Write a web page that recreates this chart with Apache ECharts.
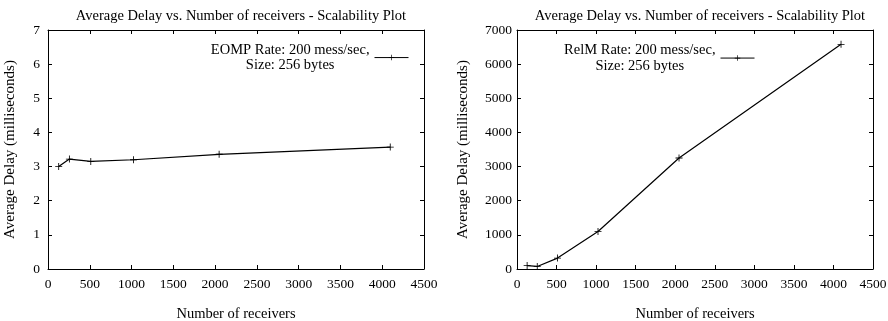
<!DOCTYPE html>
<html>
<head>
  <title>Average Delay vs. Number of receivers</title>
  <script src="https://cdn.jsdelivr.net/npm/echarts@6/dist/echarts.min.js"></script>
  <style>
    body { margin: 0; background: #fff; }
  </style>
</head>
<body>
  <div id="chartContainer" style="width: 888px; height: 321px;"></div>

  <script>
    // Number of receivers (x values, shared by both plots)
    const receivers = [128, 256, 512, 1024, 2048, 4096];
    // Average delay in milliseconds
    const eompDelay = [3.0, 3.22, 3.15, 3.2, 3.36, 3.57];
    const relmDelay = [100, 75, 320, 1100, 3250, 6580];

    const titleText = 'Average Delay vs. Number of receivers - Scalability Plot';
    const eompName = 'EOMP Rate: 200 mess/sec,\nSize: 256 bytes';
    const relmName = 'RelM Rate: 200 mess/sec,\nSize: 256 bytes';

    const font = 'Liberation Serif';
    const plus = 'path://M0,4.4H10V5.6H0Z M4.4,0H5.6V10H4.4Z';

    const chartContainer = document.getElementById('chartContainer');
    const myChart = echarts.init(chartContainer);

    // gnuplot-like box: ticks inside on every side
    function xAxes(gridIndex) {
      const base = {
        gridIndex: gridIndex,
        type: 'value',
        min: 0,
        max: 4500,
        interval: 500,
        splitLine: { show: false },
        axisLine: { show: true, onZero: false, lineStyle: { color: '#000', width: 1 } },
        axisTick: { show: true, inside: true, length: 4, lineStyle: { color: '#000' } }
      };
      return [
        Object.assign({}, base, {
          position: 'bottom',
          name: 'Number of receivers',
          nameLocation: 'middle',
          nameGap: 34,
          nameTextStyle: { fontFamily: font, fontSize: 14.5, color: '#000' },
          axisLabel: { fontFamily: font, fontSize: 13.5, color: '#000', margin: 5,
            formatter: v => String(v) }
        }),
        Object.assign({}, base, { position: 'top', axisLabel: { show: false } })
      ];
    }

    function yAxes(gridIndex, max, interval, gap, margin) {
      const base = {
        gridIndex: gridIndex,
        type: 'value',
        min: 0,
        max: max,
        interval: interval,
        splitLine: { show: false },
        axisLine: { show: true, onZero: false, lineStyle: { color: '#000', width: 1 } },
        axisTick: { show: true, inside: true, length: 4, lineStyle: { color: '#000' } }
      };
      return [
        Object.assign({}, base, {
          position: 'left',
          name: 'Average Delay (milliseconds)',
          nameLocation: 'middle',
          nameGap: gap,
          nameTextStyle: { fontFamily: font, fontSize: 15, color: '#000' },
          axisLabel: { fontFamily: font, fontSize: 13.5, color: '#000', margin: margin,
            formatter: v => String(v) }
        }),
        Object.assign({}, base, { position: 'right', axisLabel: { show: false } })
      ];
    }

    function legend(name, right, top, lineHeight) {
      return {
        data: [name],
        right: right,
        top: top,
        orient: 'vertical',
        align: 'right',
        itemWidth: 34,
        itemHeight: 7,
        itemGap: 5,
        padding: 0,
        lineStyle: { width: 1 },
        formatter: function (n) {
          return n.split('\n').map(s => '{a|' + s + '}').join('\n');
        },
        textStyle: {
          fontFamily: font,
          fontSize: 14.5,
          color: '#000',
          rich: { a: { fontFamily: font, fontSize: 14.5, color: '#000', align: 'center', lineHeight: lineHeight } }
        }
      };
    }

    function series(name, values, idx) {
      return {
        name: name,
        type: 'line',
        xAxisIndex: idx * 2,
        yAxisIndex: idx * 2,
        data: receivers.map((x, i) => [x, values[i]]),
        symbol: plus,
        symbolSize: 7,
        showSymbol: true,
        lineStyle: { color: '#000', width: 1.2 },
        itemStyle: { color: '#000' },
        animation: false
      };
    }

    const titleStyle = { fontFamily: font, fontSize: 14.5, fontWeight: 'normal', color: '#000' };

    const option = {
      backgroundColor: '#fff',
      animation: false,
      title: [
        { text: titleText, left: 236, top: 0, textAlign: 'center', textStyle: titleStyle },
        { text: titleText, left: 695, top: 0, textAlign: 'center', textStyle: titleStyle }
      ],
      legend: [
        legend(eompName, 479, 39, 15),
        legend(relmName, 133, 39, 16)
      ],
      grid: [
        { left: 48, right: 464, top: 30, bottom: 52, outerBoundsMode: 'none' },
        { left: 517, right: 15, top: 30, bottom: 52, outerBoundsMode: 'none' }
      ],
      xAxis: xAxes(0).concat(xAxes(1)),
      yAxis: yAxes(0, 7, 1, 26, 8).concat(yAxes(1, 7000, 1000, 42, 5)),
      series: [
        series(eompName, eompDelay, 0),
        series(relmName, relmDelay, 1)
      ]
    };

    myChart.setOption(option);
  </script>
</body>
</html>
